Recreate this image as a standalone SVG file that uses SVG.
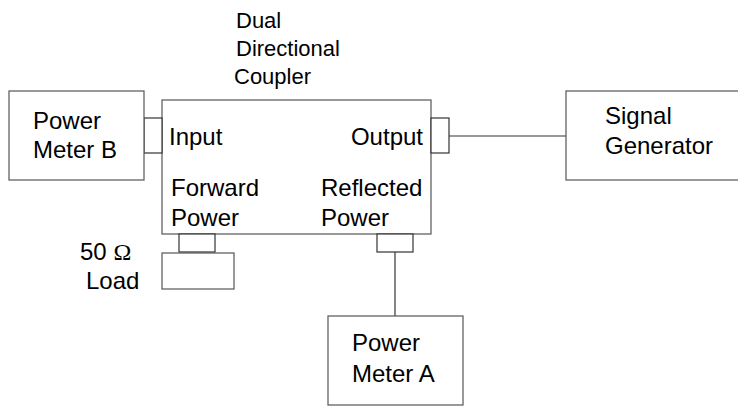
<svg xmlns="http://www.w3.org/2000/svg" width="738" height="407" viewBox="0 0 738 407">
<style>
.box{fill:#fff;stroke:#555;stroke-width:1.2}
.port{fill:#fff;stroke:#333;stroke-width:1.2}
.wire{fill:none;stroke:#333;stroke-width:1.2}
text{font-family:"Liberation Sans",Arial,sans-serif;font-size:24px;fill:#000}
.small{font-size:22px}
.serif{font-family:"Liberation Serif","Times New Roman",serif}
</style>
<rect width="738" height="407" fill="#fff"/>
<g id="connectors">
<line class="wire" x1="449" y1="136" x2="566" y2="136"/>
<line class="wire" x1="395" y1="252" x2="395" y2="316"/>
</g>
<g id="coupler">
<rect class="box" x="162" y="100" width="269" height="134"/>
<text class="small" x="236" y="28">Dual</text>
<text class="small" x="236" y="56">Directional</text>
<text class="small" x="234" y="84">Coupler</text>
<text x="169" y="145">Input</text>
<text x="423" y="145" text-anchor="end">Output</text>
<text x="171" y="196">Forward</text>
<text x="171" y="226">Power</text>
<text x="321" y="196">Reflected</text>
<text x="321" y="226">Power</text>
</g>
<g id="input-port"><rect class="port" x="144" y="118" width="18" height="35"/></g>
<g id="output-port"><rect class="port" x="431" y="118" width="18" height="35"/></g>
<g id="forward-port"><rect class="port" x="179" y="234" width="36" height="18"/></g>
<g id="reflected-port"><rect class="port" x="377" y="234" width="36" height="18"/></g>
<g id="power-meter-b">
<rect class="box" x="9" y="91" width="135" height="89"/>
<text x="33" y="129">Power</text>
<text x="33" y="158">Meter B</text>
</g>
<g id="signal-generator">
<rect class="box" x="566" y="91" width="180" height="89"/>
<text x="605" y="124">Signal</text>
<text x="605" y="154">Generator</text>
</g>
<g id="load">
<rect class="box" x="162" y="253" width="72" height="36"/>
<text x="80" y="260">50 <tspan class="serif">Ω</tspan></text>
<text x="86" y="289">Load</text>
</g>
<g id="power-meter-a">
<rect class="box" x="328" y="316" width="135" height="89"/>
<text x="352" y="351">Power</text>
<text x="352" y="382">Meter A</text>
</g>
</svg>
